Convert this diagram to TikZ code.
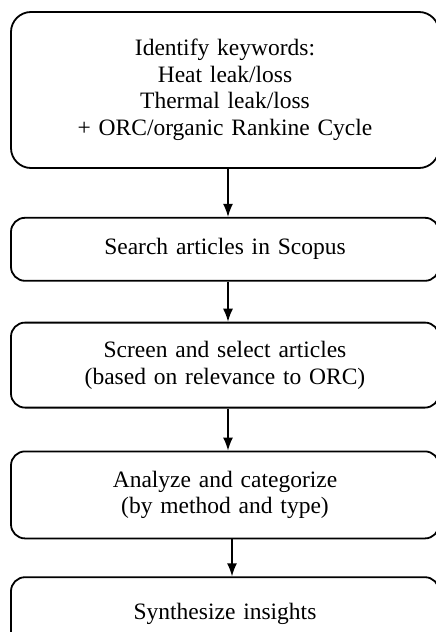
\documentclass[tikz,border=0pt]{standalone}
\usepackage{fontspec}
\setmainfont{Liberation Serif}
\usetikzlibrary{arrows.meta,positioning}

\begin{document}
\begin{tikzpicture}[
    stepbox/.style={draw, line width=1.8pt, rounded corners=14pt, minimum width=428pt, text width=400pt, align=center, inner sep=0pt, font={\fontsize{23.5}{26.5}\selectfont}},
    bigbox/.style={stepbox, rounded corners=20pt},
    flow/.style={-{Latex[length=13pt,width=10pt]}, line width=1.4pt}
    ]
    \useasboundingbox (0,0) rectangle (436pt,-632pt);
    \clip (0,0) rectangle (436pt,-632pt);

    \node [bigbox, minimum height=156pt] (keywords) at (225pt,-90pt) {
      Identify keywords:\\
      Heat leak/loss\\
      Thermal leak/loss\\
      + ORC/organic Rankine Cycle
    };
    \node [stepbox, minimum height=63pt, below=48pt of keywords] (search) {Search articles in Scopus};
    \node [stepbox, minimum height=85pt, below=40pt of search] (screen) {Screen and select articles\\(based on relevance to ORC)};
    \node [stepbox, minimum height=87pt, below=42pt of screen] (analyze) {Analyze and categorize\\(by method and type)};
    \node [stepbox, minimum height=74pt, below=37pt of analyze] (synth) {Synthesize insights};

    \draw[flow] ([xshift=3pt]keywords.south) -- ([xshift=3pt]search.north);
    \draw[flow] ([xshift=3pt]search.south) -- ([xshift=3pt]screen.north);
    \draw[flow] ([xshift=3pt]screen.south) -- ([xshift=3pt]analyze.north);
    \draw[flow] ([xshift=7pt]analyze.south) -- ([xshift=7pt]synth.north);
\end{tikzpicture}
\end{document}
